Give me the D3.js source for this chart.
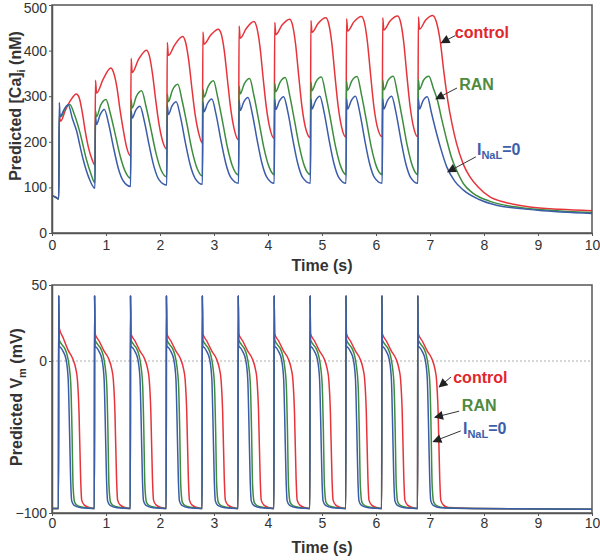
<!DOCTYPE html>
<meta charset="utf-8">
<head>
  <title>Predicted Ca and Vm</title>
</head>

<style>
  body { margin: 0; background: #fff; }
  text { font-family: "Liberation Sans", Arial, sans-serif; }
</style>

<body>

  <div id="my_dataviz"></div>

  <script src="https://d3js.org/d3.v7.min.js"></script>
  <script>

  // ---- data: [time (s), value] ----
  var timeTicks = [0, 1, 2, 3, 4, 5, 6, 7, 8, 9, 10];
  var caTicks = [0, 100, 200, 300, 400, 500];
  var vmTicks = [-100, 0, 50];

  // predicted [Ca]i (nM)
  var caControl = [
    [0,82],[0.06,79],[0.125,75],
    [0.135,255],[0.16,245],[0.25,270],[0.35,292],[0.45,305],[0.50,298],[0.56,265],[0.62,220],[0.68,185],[0.74,162],[0.795,149],
    [0.805,335],[0.825,307],[0.95,338],[1.09,362],[1.14,352],[1.20,321],[1.26,270],[1.32,226],[1.38,189],[1.455,169],
    [1.465,383],[1.485,352],[1.60,380],[1.75,401],[1.80,390],[1.86,350],[1.92,292],[1.98,240],[2.04,205],[2.125,184],
    [2.135,418],[2.155,389],[2.27,412],[2.42,431],[2.47,420],[2.53,380],[2.59,318],[2.65,260],[2.71,222],[2.785,197],
    [2.795,441],[2.815,414],[2.94,434],[3.08,447],[3.13,438],[3.19,400],[3.25,335],[3.31,272],[3.37,230],[3.455,204],
    [3.465,454],[3.485,427],[3.60,449],[3.74,464],[3.79,452],[3.85,410],[3.91,340],[3.97,275],[4.03,232],[4.115,207],
    [4.125,462],[4.145,435],[4.26,456],[4.40,469],[4.45,458],[4.51,415],[4.57,343],[4.63,276],[4.69,233],[4.785,209],
    [4.795,466],[4.815,440],[4.93,460],[5.07,472],[5.12,461],[5.18,418],[5.24,345],[5.30,277],[5.36,234],[5.445,210],
    [5.455,470],[5.475,443],[5.59,463],[5.73,475],[5.78,464],[5.84,420],[5.90,347],[5.96,278],[6.02,235],[6.115,211],
    [6.125,472],[6.145,445],[6.26,465],[6.40,476],[6.45,465],[6.51,422],[6.57,348],[6.63,279],[6.69,235],[6.775,211],
    [6.785,474],[6.805,447],[6.92,467],[7.05,477],[7.12,462],[7.19,420],[7.26,350],[7.33,290],[7.41,238],[7.49,197],
    [7.62,150],[7.74,123],[7.90,100],[8.11,79],[8.40,67],[8.85,57],[9.40,52],[10,49]
  ];
  var caRan = [
    [0,82],[0.06,79],[0.125,75],
    [0.135,262],[0.16,255],[0.25,275],[0.33,282],[0.42,258],[0.52,219],[0.64,160],[0.72,130],[0.795,110],
    [0.805,268],[0.825,255],[0.90,280],[1.00,293],[1.08,262],[1.17,217],[1.26,170],[1.36,134],[1.455,120],
    [1.465,292],[1.485,274],[1.56,299],[1.66,312],[1.74,278],[1.83,229],[1.92,178],[2.02,138],[2.125,123],
    [2.135,305],[2.155,288],[2.23,313],[2.33,326],[2.41,290],[2.50,238],[2.59,183],[2.69,141],[2.785,125],
    [2.795,315],[2.815,298],[2.89,321],[2.99,334],[3.07,297],[3.16,243],[3.25,187],[3.35,144],[3.455,127],
    [3.465,322],[3.485,305],[3.56,327],[3.66,339],[3.74,301],[3.83,246],[3.92,189],[4.02,145],[4.115,128],
    [4.125,328],[4.145,310],[4.22,330],[4.32,341],[4.40,303],[4.49,247],[4.58,190],[4.68,145],[4.785,128],
    [4.795,331],[4.815,312],[4.89,332],[4.99,342],[5.07,303],[5.16,248],[5.25,190],[5.35,145],[5.445,128],
    [5.455,333],[5.475,313],[5.55,333],[5.65,343],[5.73,304],[5.82,248],[5.91,190],[6.01,145],[6.115,128],
    [6.125,335],[6.145,314],[6.22,334],[6.32,344],[6.40,305],[6.49,249],[6.58,191],[6.68,145],[6.775,128],
    [6.785,336],[6.805,315],[6.88,335],[6.98,344],[7.06,318],[7.14,290],[7.22,248],[7.31,204],[7.40,165],[7.49,138],
    [7.62,108],[7.80,87],[8.10,70],[8.54,58],[9.20,50],[10,45]
  ];
  var caNoNaL = [
    [0,82],[0.06,79],[0.125,75],
    [0.135,286],[0.15,255],[0.22,270],[0.30,281],[0.38,250],[0.46,222],[0.52,190],[0.58,160],[0.68,122],[0.795,98],
    [0.805,255],[0.825,238],[0.89,259],[0.97,271],[1.05,239],[1.14,187],[1.23,141],[1.32,114],[1.455,102],
    [1.465,268],[1.485,252],[1.55,269],[1.63,278],[1.71,245],[1.80,192],[1.89,145],[1.98,117],[2.125,105],
    [2.135,280],[2.155,260],[2.22,278],[2.30,288],[2.38,254],[2.47,198],[2.56,149],[2.65,120],[2.785,107],
    [2.795,287],[2.815,266],[2.88,284],[2.96,294],[3.04,259],[3.13,202],[3.22,152],[3.31,122],[3.455,109],
    [3.465,291],[3.485,269],[3.55,287],[3.63,297],[3.71,261],[3.80,203],[3.89,152],[3.98,122],[4.115,109],
    [4.125,293],[4.145,271],[4.21,289],[4.29,299],[4.37,264],[4.46,205],[4.55,153],[4.64,122],[4.785,109],
    [4.795,294],[4.815,272],[4.88,290],[4.96,300],[5.04,264],[5.13,205],[5.22,153],[5.31,122],[5.445,109],
    [5.455,294],[5.475,272],[5.54,290],[5.62,300],[5.70,264],[5.79,205],[5.88,153],[5.97,122],[6.115,109],
    [6.125,294],[6.145,272],[6.21,290],[6.29,300],[6.37,264],[6.46,205],[6.55,153],[6.64,122],[6.775,109],
    [6.785,294],[6.805,272],[6.87,290],[6.95,299],[7.03,262],[7.09,233],[7.20,185],[7.31,145],[7.45,115],
    [7.62,94],[7.90,74],[8.23,61],[9.00,50],[10,43]
  ];

  // predicted Vm (mV)
  var vmControl = [
    [0,-97],[0.12,-97],[0.124,43],[0.132,22],[0.21,15],[0.30,7],[0.39,1],[0.44,-5],[0.47,-12],[0.50,-33],[0.53,-77],[0.55,-91.5],[0.60,-94.8],[0.69,-96.4],
    [0.785,-97],[0.789,43],[0.797,18],[0.875,13],[0.965,6.5],[1.055,1],[1.105,-5],[1.135,-12],[1.165,-33],[1.195,-77],[1.215,-91.5],[1.265,-94.8],[1.355,-96.4],
    [1.45,-97],[1.454,43],[1.462,18],[1.54,13],[1.63,6.5],[1.72,1],[1.77,-5],[1.80,-12],[1.83,-33],[1.86,-77],[1.88,-91.5],[1.93,-94.8],[2.02,-96.4],
    [2.115,-97],[2.119,43],[2.127,18],[2.205,13],[2.295,6.5],[2.385,1],[2.435,-5],[2.465,-12],[2.495,-33],[2.525,-77],[2.545,-91.5],[2.595,-94.8],[2.685,-96.4],
    [2.78,-97],[2.784,43],[2.792,18],[2.87,13],[2.96,6.5],[3.05,1],[3.10,-5],[3.13,-12],[3.16,-33],[3.19,-77],[3.21,-91.5],[3.26,-94.8],[3.35,-96.4],
    [3.445,-97],[3.449,43],[3.457,18],[3.535,13],[3.625,6.5],[3.715,1],[3.765,-5],[3.795,-12],[3.825,-33],[3.855,-77],[3.875,-91.5],[3.925,-94.8],[4.015,-96.4],
    [4.11,-97],[4.114,43],[4.122,18],[4.20,13],[4.29,6.5],[4.38,1],[4.43,-5],[4.46,-12],[4.49,-33],[4.52,-77],[4.54,-91.5],[4.59,-94.8],[4.68,-96.4],
    [4.775,-97],[4.779,43],[4.787,18],[4.865,13],[4.955,6.5],[5.045,1],[5.095,-5],[5.125,-12],[5.155,-33],[5.185,-77],[5.205,-91.5],[5.255,-94.8],[5.345,-96.4],
    [5.44,-97],[5.444,43],[5.452,18],[5.53,13],[5.62,6.5],[5.71,1],[5.76,-5],[5.79,-12],[5.82,-33],[5.85,-77],[5.87,-91.5],[5.92,-94.8],[6.01,-96.4],
    [6.105,-97],[6.109,43],[6.117,18],[6.195,13],[6.285,6.5],[6.375,1],[6.425,-5],[6.455,-12],[6.485,-33],[6.515,-77],[6.535,-91.5],[6.585,-94.8],[6.675,-96.4],
    [6.77,-97],[6.774,43],[6.782,18],[6.86,13],[6.95,6.5],[7.04,1],[7.09,-5],[7.12,-12],[7.15,-33],[7.18,-77],[7.20,-91.5],[7.25,-94.8],[7.34,-96.4],
    [7.8,-97],[10,-97.5]
  ];
  var vmRan = [
    [0,-97],[0.12,-97],[0.124,43],[0.132,14],[0.18,11],[0.24,8],[0.28,4],[0.32,-4],[0.35,-17],[0.37,-45],[0.39,-82],[0.42,-93],[0.48,-95.3],[0.62,-96.5],
    [0.785,-97],[0.789,43],[0.797,14],[0.845,11],[0.905,8],[0.945,4],[0.985,-4],[1.015,-17],[1.035,-45],[1.055,-82],[1.085,-93],[1.145,-95.3],[1.285,-96.5],
    [1.45,-97],[1.454,43],[1.462,14],[1.51,11],[1.57,8],[1.61,4],[1.65,-4],[1.68,-17],[1.70,-45],[1.72,-82],[1.75,-93],[1.81,-95.3],[1.95,-96.5],
    [2.115,-97],[2.119,43],[2.127,14],[2.175,11],[2.235,8],[2.275,4],[2.315,-4],[2.345,-17],[2.365,-45],[2.385,-82],[2.415,-93],[2.475,-95.3],[2.615,-96.5],
    [2.78,-97],[2.784,43],[2.792,14],[2.84,11],[2.90,8],[2.94,4],[2.98,-4],[3.01,-17],[3.03,-45],[3.05,-82],[3.08,-93],[3.14,-95.3],[3.28,-96.5],
    [3.445,-97],[3.449,43],[3.457,14],[3.505,11],[3.565,8],[3.605,4],[3.645,-4],[3.675,-17],[3.695,-45],[3.715,-82],[3.745,-93],[3.805,-95.3],[3.945,-96.5],
    [4.11,-97],[4.114,43],[4.122,14],[4.17,11],[4.23,8],[4.27,4],[4.31,-4],[4.34,-17],[4.36,-45],[4.38,-82],[4.41,-93],[4.47,-95.3],[4.61,-96.5],
    [4.775,-97],[4.779,43],[4.787,14],[4.835,11],[4.895,8],[4.935,4],[4.975,-4],[5.005,-17],[5.025,-45],[5.045,-82],[5.075,-93],[5.135,-95.3],[5.275,-96.5],
    [5.44,-97],[5.444,43],[5.452,14],[5.50,11],[5.56,8],[5.60,4],[5.64,-4],[5.67,-17],[5.69,-45],[5.71,-82],[5.74,-93],[5.80,-95.3],[5.94,-96.5],
    [6.105,-97],[6.109,43],[6.117,14],[6.165,11],[6.225,8],[6.265,4],[6.305,-4],[6.335,-17],[6.355,-45],[6.375,-82],[6.405,-93],[6.465,-95.3],[6.605,-96.5],
    [6.77,-97],[6.774,43],[6.782,14],[6.83,11],[6.89,8],[6.93,4],[6.97,-4],[7.00,-17],[7.02,-45],[7.04,-82],[7.07,-93],[7.13,-95.3],[7.27,-96.5],
    [7.8,-97],[10,-97.5]
  ];
  var vmNoNaL = [
    [0,-97],[0.12,-97],[0.124,43],[0.132,10],[0.17,8.5],[0.21,6],[0.26,1],[0.30,-12],[0.32,-38],[0.345,-78],[0.365,-92],[0.41,-95],[0.54,-96.5],
    [0.785,-97],[0.789,43],[0.797,10],[0.835,8.5],[0.875,6],[0.925,1],[0.965,-12],[0.985,-38],[1.01,-78],[1.03,-92],[1.075,-95],[1.205,-96.5],
    [1.45,-97],[1.454,43],[1.462,10],[1.50,8.5],[1.54,6],[1.59,1],[1.63,-12],[1.65,-38],[1.675,-78],[1.695,-92],[1.74,-95],[1.87,-96.5],
    [2.115,-97],[2.119,43],[2.127,10],[2.165,8.5],[2.205,6],[2.255,1],[2.295,-12],[2.315,-38],[2.34,-78],[2.36,-92],[2.405,-95],[2.535,-96.5],
    [2.78,-97],[2.784,43],[2.792,10],[2.83,8.5],[2.87,6],[2.92,1],[2.96,-12],[2.98,-38],[3.005,-78],[3.025,-92],[3.07,-95],[3.20,-96.5],
    [3.445,-97],[3.449,43],[3.457,10],[3.495,8.5],[3.535,6],[3.585,1],[3.625,-12],[3.645,-38],[3.67,-78],[3.69,-92],[3.735,-95],[3.865,-96.5],
    [4.11,-97],[4.114,43],[4.122,10],[4.16,8.5],[4.20,6],[4.25,1],[4.29,-12],[4.31,-38],[4.335,-78],[4.355,-92],[4.40,-95],[4.53,-96.5],
    [4.775,-97],[4.779,43],[4.787,10],[4.825,8.5],[4.865,6],[4.915,1],[4.955,-12],[4.975,-38],[5.00,-78],[5.02,-92],[5.065,-95],[5.195,-96.5],
    [5.44,-97],[5.444,43],[5.452,10],[5.49,8.5],[5.53,6],[5.58,1],[5.62,-12],[5.64,-38],[5.665,-78],[5.685,-92],[5.73,-95],[5.86,-96.5],
    [6.105,-97],[6.109,43],[6.117,10],[6.155,8.5],[6.195,6],[6.245,1],[6.285,-12],[6.305,-38],[6.33,-78],[6.35,-92],[6.395,-95],[6.525,-96.5],
    [6.77,-97],[6.774,43],[6.782,10],[6.82,8.5],[6.86,6],[6.91,1],[6.95,-12],[6.97,-38],[6.995,-78],[7.015,-92],[7.06,-95],[7.19,-96.5],
    [7.8,-97],[10,-97.5]
  ];

  // label anchors: [text x (s), text y, arrow start x, start y, arrow tip x, tip y]
  var caLabelPos = {
    control: [7.46, 428, 7.47, 433, 7.21, 417],
    ran:     [7.54, 314, 7.50, 318, 7.11, 294],
    nonal:   [7.87, 171, 7.85, 167, 7.33, 134]
  };
  var vmLabelPos = {
    control: [7.43, -14.5, 7.39, -10.5, 7.17, -17],
    ran:     [7.59, -33, 7.54, -33, 7.09, -37],
    nonal:   [7.61, -48, 7.57, -46, 7.06, -53]
  };

  var colors = { control: "#e6343a", ran: "#3e8d3e", nonal: "#3b5ca8" };
  var textColors = { control: "#e1262c", ran: "#4f8a3f", nonal: "#3e5ea8" };

  // ---- page ----
  var svg = d3.select("#my_dataviz")
    .append("svg")
      .attr("width", 600)
      .attr("height", 560);

  svg.append("defs").append("marker")
      .attr("id", "head")
      .attr("viewBox", "0 0 10 10")
      .attr("refX", 9).attr("refY", 5)
      .attr("markerWidth", 10).attr("markerHeight", 9)
      .attr("markerUnits", "userSpaceOnUse")
      .attr("orient", "auto")
    .append("path")
      .attr("d", "M0,0 L10,5 L0,10 Z")
      .style("fill", "#222");

  var x = d3.scaleLinear().domain([0, 10]).range([52, 592]);

  function drawPanel(y, yTicks, series, labelPos, xPad) {
    var g = svg.append("g");
    var top = y.range()[1], bottom = y.range()[0];

    // dashed zero line (only when 0 is inside the domain and not the edge)
    if (y.domain()[0] < 0) {
      g.append("line")
        .attr("x1", x(0)).attr("x2", x(10))
        .attr("y1", y(0)).attr("y2", y(0))
        .style("stroke", "#9a9a9a")
        .style("stroke-width", 0.8)
        .style("stroke-dasharray", "2,2");
    }

    var line = d3.line()
      .x(function(d) { return x(d[0]); })
      .y(function(d) { return y(d[1]); })
      .curve(d3.curveMonotoneX);

    series.forEach(function(s) {
      g.append("path")
        .datum(s.values)
        .attr("d", line)
        .style("fill", "none")
        .style("stroke", colors[s.key])
        .style("stroke-width", 1.5)
        .style("stroke-linejoin", "round");
    });

    // frame
    g.append("rect")
      .attr("x", x(0)).attr("y", top)
      .attr("width", x(10) - x(0)).attr("height", bottom - top)
      .style("fill", "none")
      .style("stroke", "#555")
      .style("stroke-width", 1.5);

    // axes
    var ax = g.append("g")
      .attr("transform", "translate(0," + bottom + ")")
      .call(d3.axisBottom(x).tickValues(timeTicks).tickSize(3).tickPadding(xPad).tickSizeOuter(0));
    var ay = g.append("g")
      .attr("transform", "translate(" + x(0) + ",0)")
      .call(d3.axisLeft(y).tickValues(yTicks).tickSize(3).tickPadding(2).tickSizeOuter(0));
    [ax, ay].forEach(function(a) {
      a.select(".domain").style("stroke", "#555").style("stroke-width", 1.5);
      a.selectAll(".tick line").style("stroke", "#555");
      a.selectAll(".tick text")
        .style("font-size", "14px")
        .style("fill", "#333")
        .style("font-family", "'Liberation Sans', Arial, sans-serif");
    });
    // keep the top tick label inside the page
    ay.selectAll(".tick text")
      .filter(function(d) { return y(d) < 10; })
      .attr("dy", "0.5em");

    // labels with arrows
    ["control", "ran", "nonal"].forEach(function(k) {
      var p = labelPos[k];
      g.append("line")
        .attr("x1", x(p[2])).attr("y1", y(p[3]))
        .attr("x2", x(p[4])).attr("y2", y(p[5]))
        .style("stroke", "#333")
        .style("stroke-width", 1)
        .attr("marker-end", "url(#head)");
      var t = g.append("text")
        .attr("x", x(p[0])).attr("y", y(p[1]))
        .style("font-size", "16px")
        .style("font-weight", "bold")
        .style("fill", textColors[k]);
      if (k === "control") t.text("control");
      else if (k === "ran") t.text("RAN");
      else {
        t.append("tspan").text("I");
        t.append("tspan").attr("dy", 4).style("font-size", "11px").text("NaL");
        t.append("tspan").attr("dy", -4).text("=0");
      }
    });
    return g;
  }

  // top panel: [Ca]i
  var yCa = d3.scaleLinear().domain([0, 500]).range([233, 5]);
  drawPanel(yCa, caTicks, [
    { key: "control", values: caControl },
    { key: "ran", values: caRan },
    { key: "nonal", values: caNoNaL }
  ], caLabelPos, 4);

  // bottom panel: Vm
  var yVm = d3.scaleLinear().domain([-100, 50]).range([513, 285]);
  drawPanel(yVm, vmTicks, [
    { key: "control", values: vmControl },
    { key: "ran", values: vmRan },
    { key: "nonal", values: vmNoNaL }
  ], vmLabelPos, 2);

  // axis titles
  function title(xp, yp, rot) {
    return svg.append("text")
      .attr("transform", "translate(" + xp + "," + yp + ")" + (rot ? " rotate(-90)" : ""))
      .attr("text-anchor", "middle")
      .style("font-size", "16px")
      .style("font-weight", "bold")
      .style("fill", "#333");
  }
  title(322, 271).text("Time (s)");
  title(322, 553).text("Time (s)");

  var tCa = title(21, 106, true);
  tCa.append("tspan").text("Predicted [Ca]");
  tCa.append("tspan").attr("dy", 4).style("font-size", "11px").text("i");
  tCa.append("tspan").attr("dy", -4).text(" (nM)");

  var tVm = title(22, 397, true);
  tVm.append("tspan").text("Predicted V");
  tVm.append("tspan").attr("dy", 4).style("font-size", "11px").text("m");
  tVm.append("tspan").attr("dy", -4).text(" (mV)");

  </script>
</body>
</html>
